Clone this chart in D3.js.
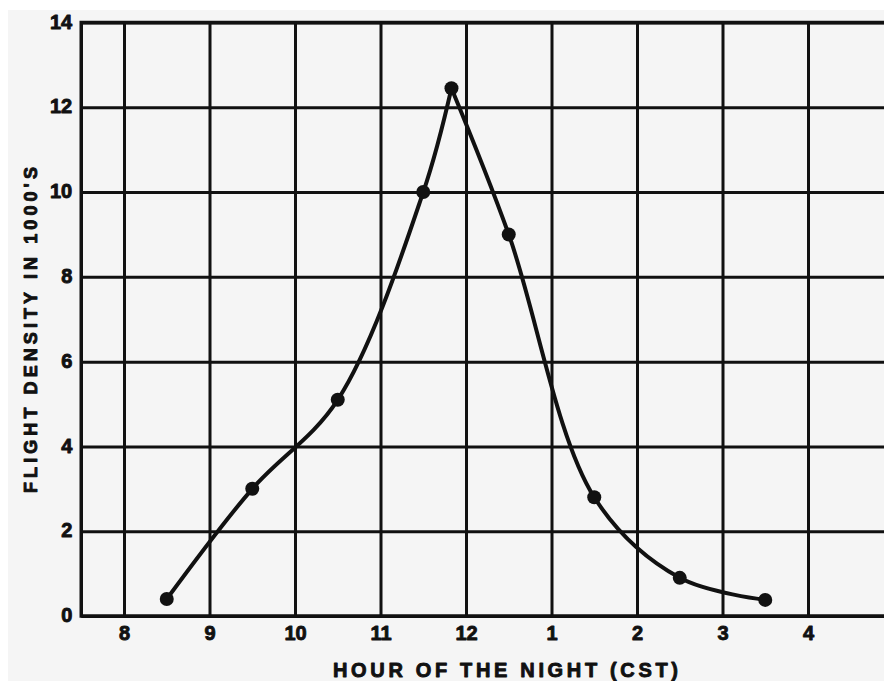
<!DOCTYPE html>
<html>
<head>
<meta charset="utf-8">
<script src="https://cdn.jsdelivr.net/npm/d3@7/dist/d3.min.js"></script>
<style>
  html, body { margin: 0; padding: 0; background: #ffffff; }
  svg { display: block; }
  text { font-family: "Liberation Sans", Arial, sans-serif; font-weight: bold; fill: #111; stroke: #111; stroke-width: 0.9px; stroke-linejoin: round; }
</style>
</head>
<body>
<svg id="chart" width="884" height="681"></svg>
<script>
// Hours are counted continuously past midnight (13 = 1 AM, 14 = 2 AM, ...)
const hourTicks = [8, 9, 10, 11, 12, 13, 14, 15, 16];
const hourLabels = ["8", "9", "10", "11", "12", "1", "2", "3", "4"];
const densityTicks = [0, 2, 4, 6, 8, 10, 12, 14];

// Observed flight density (thousands) at each sampled hour
const obsHours = [8.5, 9.5, 10.5, 11.5, 11.83, 12.5, 13.5, 14.5, 15.5];
const obsDensity = [0.4, 3.0, 5.1, 10.0, 12.45, 9.0, 2.8, 0.9, 0.38];

(function () {
  const W = 884, H = 681;
  const svg = d3.select("#chart");

  // paper background
  svg.append("rect").attr("x", 0).attr("y", 0).attr("width", W).attr("height", H).attr("fill", "#ffffff");
  svg.append("rect").attr("x", 8).attr("y", 10).attr("width", W - 8).attr("height", H - 10).attr("fill", "#f5f5f5");

  const x = d3.scaleLinear().domain([8, 16]).range([124, 808]);
  const y = d3.scaleLinear().domain([0, 14]).range([616, 22.5]);

  const plotL = x(7.5), plotR = W, plotT = y(14), plotB = y(0);
  const ink = "#111";

  // horizontal grid + density labels
  const yAxis = d3.axisLeft(y)
    .tickValues(densityTicks)
    .tickSize(-(plotR - plotL))
    .tickPadding(9)
    .tickFormat(d3.format("d"));
  const gy = svg.append("g").attr("transform", `translate(${plotL},0)`).call(yAxis);
  gy.select(".domain").remove();
  gy.selectAll(".tick line").attr("stroke", ink).attr("stroke-width", 3);
  gy.selectAll(".tick text").style("font-size", "20px").attr("fill", ink).attr("dy", "0.28em");

  // vertical grid + hour labels
  const xAxis = d3.axisBottom(x)
    .tickValues(hourTicks)
    .tickSize(-(plotB - plotT))
    .tickPadding(10)
    .tickFormat((d, i) => hourLabels[i]);
  const gx = svg.append("g").attr("transform", `translate(0,${plotB})`).call(xAxis);
  gx.select(".domain").remove();
  gx.selectAll(".tick line").attr("stroke", ink).attr("stroke-width", 3);
  gx.selectAll(".tick text").style("font-size", "20px").attr("fill", ink);

  // frame: left, top and bottom borders
  svg.append("path")
    .attr("d", `M${plotR},${plotT}H${plotL}V${plotB}H${plotR}`)
    .attr("fill", "none").attr("stroke", ink).attr("stroke-width", 3.5);

  // density curve: rising and falling limbs meet in a sharp peak
  const pts = obsHours.map((h, i) => [h, obsDensity[i]]);
  const peak = d3.maxIndex(obsDensity);
  const line = d3.line().x(d => x(d[0])).y(d => y(d[1])).curve(d3.curveCatmullRom.alpha(0.5));
  [pts.slice(0, peak + 1), pts.slice(peak)].forEach(limb => {
    svg.append("path").attr("d", line(limb))
      .attr("fill", "none").attr("stroke", ink).attr("stroke-width", 4)
      .attr("stroke-linejoin", "round").attr("stroke-linecap", "round");
  });

  svg.selectAll("circle.obs").data(pts).enter().append("circle")
    .attr("class", "obs")
    .attr("cx", d => x(d[0])).attr("cy", d => y(d[1])).attr("r", 7)
    .attr("fill", ink);

  // axis titles
  svg.append("text")
    .attr("x", 333).attr("y", 677)
    .attr("textLength", 345).attr("lengthAdjust", "spacing")
    .style("font-size", "20px")
    .text("HOUR OF THE NIGHT (CST)");

  svg.append("text")
    .attr("transform", "translate(37,493) rotate(-90)")
    .attr("textLength", 326).attr("lengthAdjust", "spacing")
    .style("font-size", "18px")
    .text("FLIGHT DENSITY IN 1000'S");
})();
</script>
</body>
</html>
